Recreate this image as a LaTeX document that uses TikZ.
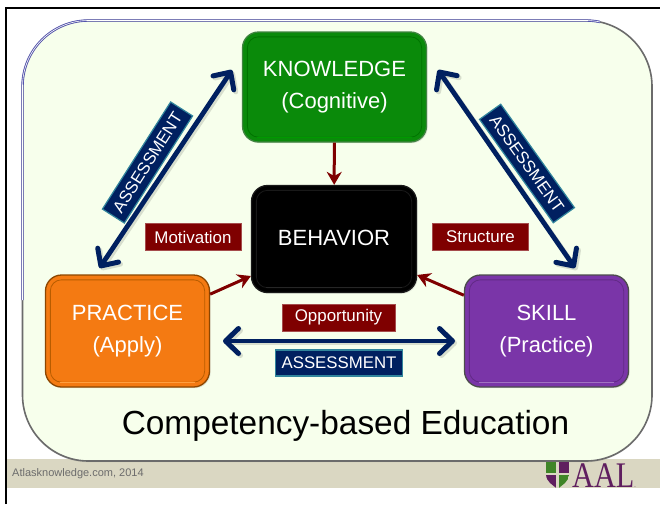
\documentclass[tikz,border=0pt]{standalone}
\usepackage{fontspec}
\setmainfont{Liberation Sans}
\newfontfamily\serifaal{Liberation Serif}
\usetikzlibrary{arrows.meta,shadows,calc}
\definecolor{panelfill}{HTML}{F7FFEC}
\definecolor{bandfill}{HTML}{DAD7C2}
\definecolor{navyblue}{HTML}{002060}
\definecolor{tealedge}{HTML}{31859C}
\definecolor{darkred}{HTML}{7F0000}
\definecolor{greenfill}{HTML}{0A8A0A}
\definecolor{orangefill}{HTML}{F47A12}
\definecolor{purplefill}{HTML}{7A35A8}
\definecolor{aalpurple}{HTML}{5F1E5F}
\definecolor{aalgreen}{HTML}{3F8527}
\newcommand{\lowtext}[1]{\raisebox{-4pt}{#1}}
\newcommand{\bevelbox}[3]{%
  \draw[bevel,draw=#2] ($(#1.south west)+(5.5,-5.5)$) rectangle ($(#1.north east)+(-5.5,5.5)$);
  \draw[line width=1.2pt,draw=#3] ($(#1.south west)+(15,-5.5)$) -- ($(#1.south east)+(-15,-5.5)$);
}
\tikzset{
  mainbox/.style={rectangle,rounded corners=16pt,inner sep=0pt,align=center,text=white,
    font=\fontsize{22}{32}\selectfont,line width=1.3pt,drop shadow={shadow xshift=1.2pt,shadow yshift=-1.2pt,opacity=.2}},
  bevel/.style={rounded corners=11pt,line width=.8pt},
  redlabel/.style={rectangle,fill=darkred,draw=darkred!70!white,line width=1pt,text=white,inner sep=0pt,
    minimum height=27pt,font=\fontsize{16.9}{20}\selectfont},
  bluelabel/.style={rectangle,fill=navyblue,draw=tealedge,line width=1.2pt,text=white,inner sep=0pt,
    minimum height=26pt,minimum width=127pt,font=\fontsize{16.8}{20}\selectfont},
  bluearrow/.style={draw=navyblue,line width=4.8pt,
    {Straight Barb[length=13pt,width=25pt,line width=5pt,round]}-{Straight Barb[length=13pt,width=25pt,line width=5pt,round]}},
  arrowshade/.style={draw=black,opacity=.13,line width=4.8pt,
    {Straight Barb[length=13pt,width=25pt,line width=5pt,round]}-{Straight Barb[length=13pt,width=25pt,line width=5pt,round]}},
  redarrow/.style={draw=darkred,line width=3pt,-{Stealth[length=13pt,width=15pt]}},
}
\begin{document}
\begin{tikzpicture}[x=1pt,y=-1pt]
\useasboundingbox (0,0) rectangle (660,504);
\fill[white] (0,0) rectangle (660,504);
% footer band
\fill[bandfill] (6,459) rectangle (660,488);
% frame
\draw[black,line width=2pt] (5.5,504) -- (5.5,8) -- (660,8);
% panel
\draw[rounded corners=66pt,fill=panelfill,draw=black!58,line width=1.6pt,drop shadow={shadow xshift=0pt,shadow yshift=-1.2pt,opacity=.25}] (22.5,20.5) rectangle (652,461);
\begin{scope}
\clip (0,0) -- (600,0) -- (600,26) -- (90,26) -- (26,90) -- (26,300) -- (0,300) -- cycle;
\draw[rounded corners=66pt,draw=blue!35!gray,line width=.9pt,double=white,double distance=.6pt] (22.5,20.5) rectangle (652,461);
\end{scope}
% nodes
\node[mainbox,fill=greenfill,draw=green!35!black!75,minimum width=184pt,minimum height=110pt] (knowledge) at (334.5,87) {\lowtext{KNOWLEDGE}\\\lowtext{(Cognitive)}};
\node[mainbox,fill=black,draw=black!90,minimum width=165pt,minimum height=107pt] (behavior) at (334,239) {\raisebox{1.5pt}{BEHAVIOR}};
\node[mainbox,fill=orangefill,draw=orange!55!black,minimum width=164pt,minimum height=112pt] (practice) at (127.5,331) {\lowtext{PRACTICE}\\\lowtext{(Apply)}};
\node[mainbox,fill=purplefill,draw=black!70,minimum width=164pt,minimum height=112pt] (skill) at (546.5,331) {\lowtext{SKILL}\\\lowtext{(Practice)}};
% bevels
\bevelbox{knowledge}{green!45!black}{green!60!black}
\bevelbox{behavior}{black!90}{black!85}
\bevelbox{practice}{orange!72!black}{orange!75!white}
\bevelbox{skill}{purplefill!80!black}{purplefill!70!white}
% connector ends
\coordinate (kl) at (232,70);
\coordinate (pt) at (99.5,268);
\coordinate (kr) at (438,70);
\coordinate (st) at (575,268);
\coordinate (pr) at (223,341);
\coordinate (sl) at (455,341);
\coordinate (kls) at (234,72);
\coordinate (pts) at (101.5,270);
\coordinate (krs) at (440,72);
\coordinate (sts) at (577,270);
\coordinate (prs) at (225,343);
\coordinate (sls) at (457,343);
\draw[arrowshade] (pts) -- (kls);
\draw[arrowshade] (krs) -- (sts);
\draw[arrowshade] (prs) -- (sls);
\draw[bluearrow] (pt) -- (kl);
\draw[bluearrow] (kr) -- (st);
\draw[bluearrow] (pr) -- (sl);
% red arrows
\draw[redarrow] (knowledge) -- (behavior);
\draw[redarrow] (practice) -- (behavior);
\draw[redarrow] (skill) -- (behavior);
% labels
\node[redlabel,minimum width=96pt] (motivation) at (193,237) {Motivation};
\node[redlabel,minimum width=96pt] (structure) at (480.5,237) {Structure};
\node[redlabel,minimum width=113pt] (opportunity) at (338.5,317.5) {Opportunity};
\node[bluelabel] (assessbottom) at (339,363) {ASSESSMENT};
\node[bluelabel,rotate=57.5] (assessleft) at (147.5,162.5) {ASSESSMENT};
\node[bluelabel,rotate=-54.5] (assessright) at (527,163.5) {ASSESSMENT};
% title
\node[font=\fontsize{33.4}{38}\selectfont,text=black] (title) at (345.5,426) {Competency-based Education};
\node[font=\fontsize{11}{13}\selectfont,text=gray!85!black,anchor=west,inner sep=0pt] (credit) at (12,473.5) {Atlasknowledge.com, 2014};
% logo
\begin{scope}
\clip (546,462) -- (569,462) -- (569,474) .. controls (569,482) and (562,485) .. (557.5,489) .. controls (553,485) and (546,482) .. (546,474) -- cycle;
\fill[aalgreen] (546,462) rectangle (556,472.5);
\fill[aalpurple] (559,462) rectangle (569,472.5);
\fill[aalpurple] (546,475) rectangle (556,489);
\fill[aalgreen] (559,475) rectangle (569,489);
\end{scope}
\node[font=\serifaal\fontsize{36}{38}\selectfont,text=aalpurple,anchor=base west,inner sep=0pt,xscale=.84] (aal) at (572,487) {AAL\fontsize{7}{8}\selectfont.};
\end{tikzpicture}
\end{document}
